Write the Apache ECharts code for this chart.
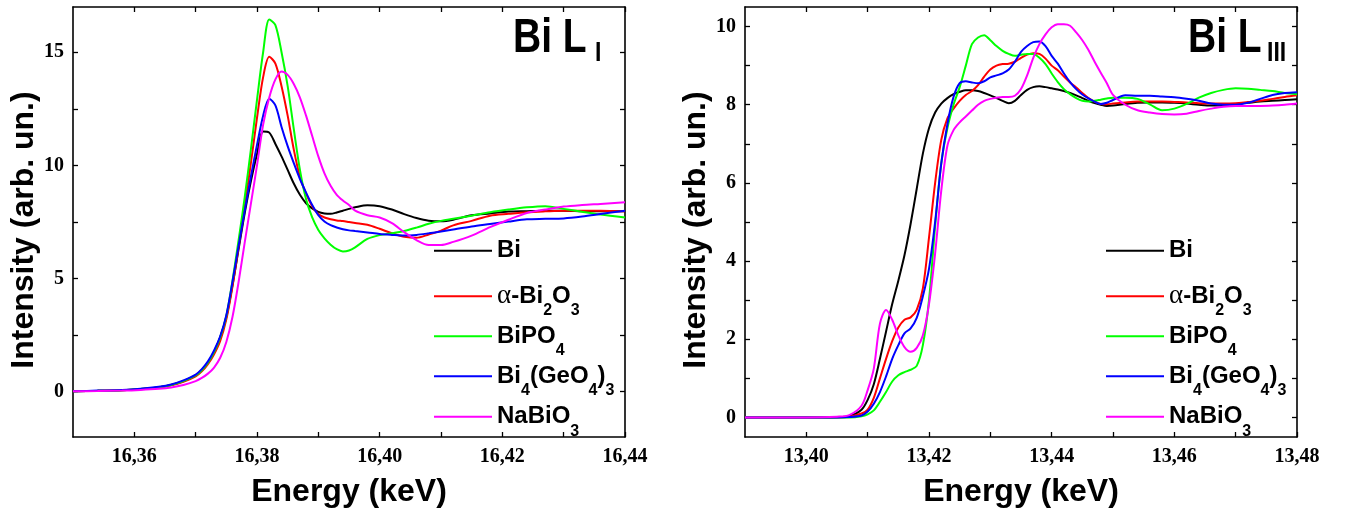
<!DOCTYPE html>
<html><head><meta charset="utf-8">
<script src="https://cdn.jsdelivr.net/npm/echarts@6/dist/echarts.min.js"></script>
<style>html,body{margin:0;padding:0;background:#fff}#c{width:1347px;height:513px}</style>
</head><body><div id="c"></div>
<script>
// ---------- Bi L_I edge (left panel) ----------
const LX = [16.350,16.354,16.358,16.361,16.364,16.366,16.368,16.370,16.371,16.372,16.373,16.374,16.375,16.376,16.377,16.378,16.379,16.380,16.381,16.382,16.383,16.384,16.385,16.386,16.387,16.388,16.389,16.390,16.391,16.392,16.393,16.394,16.395,16.396,16.398,16.400,16.402,16.404,16.406,16.408,16.410,16.412,16.415,16.418,16.421,16.424,16.427,16.430,16.433,16.436,16.440];
const L_Bi = [0.02,0.04,0.07,0.12,0.20,0.30,0.47,0.72,0.95,1.28,1.75, 2.40,3.30,4.70,6.30,7.90,9.30,10.50,11.50,11.45,10.95, 10.40,9.80,9.20,8.70,8.33,8.10,7.95,7.88,7.86,7.92, 8.00,8.08,8.15,8.24,8.20,8.05,7.85,7.68,7.56,7.53, 7.60,7.80,7.88,7.96,7.98,8.00,8.00,7.98,7.97,7.98];
const L_Bi2O3 = [0.02,0.04,0.07,0.11,0.19,0.28,0.44,0.68,0.90,1.22,1.66, 2.25,3.20,4.65,6.40,8.20,10.10,12.10,13.90,14.80,14.50, 13.50,12.20,10.70,9.50,8.75,8.20,7.85,7.70,7.62,7.57, 7.54,7.50,7.46,7.38,7.20,7.00,6.85,6.80,6.95,7.12, 7.35,7.55,7.78,7.86,7.93,7.97,8.00,8.00,8.00,7.97];
const L_BiPO4 = [0.02,0.04,0.07,0.12,0.20,0.30,0.47,0.72,0.95,1.28,1.75, 2.40,3.35,4.90,6.70,8.60,10.70,12.90,15.00,16.45,16.20, 15.00,13.50,11.60,9.80,8.50,7.70,7.15,6.78,6.50,6.30, 6.20,6.24,6.38,6.75,6.92,7.00,7.10,7.25,7.42,7.55, 7.64,7.78,7.93,8.05,8.15,8.20,8.08,7.95,7.83,7.70];
const L_BiGeO = [0.02,0.05,0.08,0.13,0.22,0.32,0.50,0.76,1.00,1.34,1.82, 2.45,3.38,4.85,6.45,8.00,9.50,10.90,12.20,12.95,12.65, 11.70,10.85,10.10,9.40,8.80,8.25,7.80,7.52,7.36,7.26, 7.18,7.13,7.10,7.04,6.97,6.93,6.90,6.93,7.00,7.08, 7.17,7.30,7.41,7.52,7.62,7.64,7.66,7.74,7.85,8.00];
const L_NaBiO3 = [0.02,0.03,0.05,0.08,0.13,0.19,0.30,0.47,0.61,0.80,1.07, 1.50,2.20,3.30,4.85,6.60,8.30,10.00,11.80,13.00,13.80, 14.15,14.00,13.60,13.00,12.20,11.30,10.40,9.65,9.10,8.70, 8.45,8.25,8.00,7.80,7.70,7.45,7.05,6.70,6.48,6.48, 6.62,6.90,7.27,7.60,7.90,8.05,8.18,8.25,8.30,8.37];

// ---------- Bi L_III edge (right panel) ----------
const RX = [13.390,13.400,13.405,13.407,13.409,13.410,13.411,13.412,13.413,13.414,13.415,13.416,13.417,13.418,13.419,13.420,13.421,13.422,13.423,13.424,13.425,13.426,13.427,13.428,13.429,13.430,13.431,13.432,13.433,13.434,13.435,13.436,13.437,13.438,13.439,13.440,13.441,13.442,13.443,13.444,13.445,13.446,13.447,13.448,13.449,13.450,13.452,13.454,13.456,13.458,13.460,13.462,13.464,13.466,13.468,13.470,13.472,13.474,13.476,13.478,13.480];
const R_Bi = [0,0,0.01,0.04,0.20,0.45,0.85,1.50,2.20,2.90, 3.50,4.15,4.95,5.85,6.75,7.40,7.80,8.03,8.17,8.27, 8.33,8.37,8.37,8.35,8.30,8.24,8.17,8.10,8.04,8.10, 8.25,8.38,8.45,8.47,8.45,8.42,8.39,8.35,8.30,8.24, 8.17,8.10,8.04,8.00,7.97,7.98,8.02,8.05,8.06,8.06, 8.05,8.03,8.00,7.98,7.98,8.02,8.05,8.08,8.10,8.12,8.14];
const R_Bi2O3 = [0,0,0,0.02,0.10,0.20,0.50,1.00,1.50,1.95, 2.30,2.50,2.56,2.75,3.30,4.60,6.00,7.10,7.65,7.90, 8.10,8.25,8.35,8.50,8.72,8.90,9.00,9.04,9.05,9.10, 9.20,9.28,9.32,9.30,9.18,9.00,8.88,8.72,8.57,8.44, 8.30,8.17,8.08,8.02,8.01,8.03,8.06,8.08,8.08,8.08, 8.07,8.06,8.04,8.03,8.03,8.04,8.07,8.10,8.15,8.20,8.24];
const R_BiPO4 = [0,0,0,0,0.03,0.08,0.18,0.40,0.65,0.92, 1.08,1.16,1.22,1.32,1.85,3.00,4.90,6.50,7.40,8.00, 8.45,9.00,9.55,9.72,9.78,9.65,9.50,9.38,9.30,9.25, 9.28,9.30,9.30,9.20,9.04,8.80,8.58,8.40,8.27,8.17, 8.10,8.08,8.10,8.13,8.16,8.18,8.18,8.15,8.01,7.86, 7.90,8.02,8.18,8.30,8.38,8.42,8.41,8.38,8.35,8.30,8.27];
const R_BiGeO = [0,0,0,0.01,0.05,0.15,0.35,0.65,1.05,1.50, 1.85,2.15,2.28,2.55,3.10,3.80,5.00,6.50,7.50,8.20, 8.55,8.60,8.57,8.55,8.60,8.70,8.75,8.80,8.90,9.10, 9.35,9.50,9.60,9.62,9.50,9.25,9.05,8.80,8.58,8.40, 8.26,8.16,8.08,8.02,8.05,8.12,8.24,8.23,8.23,8.21, 8.19,8.15,8.10,8.03,8.00,8.00,8.05,8.15,8.25,8.30,8.32];
const R_NaBiO3 = [0,0,0.02,0.06,0.30,0.70,1.25,2.40,2.75,2.50, 2.10,1.80,1.68,1.78,2.10,2.90,4.20,5.80,6.95,7.35, 7.55,7.70,7.85,8.00,8.10,8.15,8.18,8.20,8.20,8.23, 8.40,8.75,9.20,9.55,9.80,9.98,10.06,10.06,10.02,9.85, 9.65,9.40,9.10,8.82,8.55,8.25,8.00,7.86,7.80,7.76, 7.75,7.77,7.84,7.90,7.95,7.97,7.97,7.97,7.98,8.00,8.03];

// ---------- names, labels, ticks ----------
const NAMES = ['Bi', 'α-Bi2O3', 'BiPO4', 'Bi4(GeO4)3', 'NaBiO3'];
const LEGEND_RICH = ['{m|Bi}', '{g|α}{m|-Bi}{s|2}{m|O}{s|3}', '{m|BiPO}{s|4}', '{m|Bi}{s|4}{m|(GeO}{s|4}{m|)}{s|3}', '{m|NaBiO}{s|3}'];
const COLORS = ['#000000', '#ff0000', '#00ff00', '#0000ff', '#ff00ff'];
const L_SERIES = [L_Bi, L_Bi2O3, L_BiPO4, L_BiGeO, L_NaBiO3];
const R_SERIES = [R_Bi, R_Bi2O3, R_BiPO4, R_BiGeO, R_NaBiO3];

const LX_TICKS = [16.36, 16.37, 16.38, 16.39, 16.40, 16.41, 16.42, 16.43, 16.44];
const LX_LABELS = [16.36, 16.38, 16.40, 16.42, 16.44];
const LY_TICKS = [0, 2.5, 5, 7.5, 10, 12.5, 15];
const LY_LABELS = [0, 5, 10, 15];
const RX_TICKS = [13.40, 13.41, 13.42, 13.43, 13.44, 13.45, 13.46, 13.47, 13.48];
const RX_LABELS = [13.40, 13.42, 13.44, 13.46, 13.48];
const RY_TICKS = [0, 1, 2, 3, 4, 5, 6, 7, 8, 9, 10];
const RY_LABELS = [0, 2, 4, 6, 8, 10];
const TITLES = [['Bi L', 'I'], ['Bi L', 'III']];
const X_TITLE = 'Energy (keV)';
const Y_TITLE = 'Intensity (arb. un.)';

const chart = echarts.init(document.getElementById('c'), null, {renderer: 'canvas'});

const lineAx = {show: true, onZero: false, lineStyle: {color: '#000', width: 1.6}};
const tickFont = {fontFamily: 'Liberation Serif', fontWeight: 'bold', fontSize: 20, color: '#000'};
const titleFont = {fontFamily: 'Liberation Sans', fontWeight: 'bold', fontSize: 32, color: '#000'};

function xAx(grid, min, max, ticks, labels, pos, showLab) {
  return {
    type: 'value', gridIndex: grid, position: pos, min: min, max: max,
    axisLine: lineAx, splitLine: {show: false},
    axisTick: {show: true, inside: true, length: 5, lineStyle: {width: 1.3, color: '#000'}, customValues: ticks},
    axisLabel: Object.assign({show: showLab, margin: 10, customValues: labels,
      formatter: v => v.toFixed(2).replace('.', ',')}, tickFont),
    name: showLab ? X_TITLE : '', nameLocation: 'middle', nameGap: 39, nameTextStyle: titleFont
  };
}
function yAx(grid, min, max, ticks, labels, pos, showLab) {
  return {
    type: 'value', gridIndex: grid, position: pos, min: min, max: max,
    axisLine: lineAx, splitLine: {show: false},
    axisTick: {show: true, inside: true, length: 5, lineStyle: {width: 1.3, color: '#000'}, customValues: ticks},
    axisLabel: Object.assign({show: showLab, margin: 9, customValues: labels,
      formatter: v => String(v)}, tickFont),
    name: showLab ? Y_TITLE : '', nameLocation: 'middle', nameGap: 30,
    nameTextStyle: Object.assign({padding: [0, 16, 0, 0]}, titleFont)
  };
}

const series = [];
NAMES.forEach((n, i) => {
  series.push({type: 'line', name: n, xAxisIndex: 0, yAxisIndex: 0, symbol: 'none',
    smooth: 0.3, z: 2 + i,
    lineStyle: {color: COLORS[i], width: 2}, itemStyle: {color: COLORS[i]},
    data: LX.map((x, k) => [x, L_SERIES[i][k]])});
});
NAMES.forEach((n, i) => {
  series.push({type: 'line', name: n, xAxisIndex: 2, yAxisIndex: 2, symbol: 'none',
    smooth: 0.3, z: 2 + i,
    lineStyle: {color: COLORS[i], width: 2}, itemStyle: {color: COLORS[i]},
    data: RX.map((x, k) => [x, R_SERIES[i][k]])});
});

const ROW_CENTERS = [261.7, 296.7, 336.7, 376.7, 417.3];
const legendRich = {
  m: {fontFamily: 'Liberation Sans', fontWeight: 'bold', fontSize: 24, lineHeight: 46, color: '#000'},
  g: {fontFamily: 'Liberation Serif', fontWeight: 'normal', fontSize: 27, lineHeight: 46, color: '#000'},
  s: {fontFamily: 'Liberation Sans', fontWeight: 'bold', fontSize: 16, lineHeight: 16, padding: [29, 0, 0, 0], color: '#000'}
};
const legends = [];
[434, 1106].forEach(lx => {
  NAMES.forEach((n, i) => {
    legends.push({
      left: lx, top: ROW_CENTERS[i] - 23, padding: 0, orient: 'vertical',
      data: [n], icon: 'rect', itemWidth: 58, itemHeight: 2, itemGap: 0,
      selectedMode: false,
      formatter: name => LEGEND_RICH[NAMES.indexOf(name)],
      textStyle: {color: '#000', rich: legendRich}
    });
  });
});

const graphics = [];
[[513, 595], [1188, 1267]].forEach((p, k) => {
  graphics.push({type: 'text', x: p[0], y: 39, scaleY: 1.25, style: {text: TITLES[k][0], font: 'bold 39px "Liberation Sans"', fill: '#000', textAlign: 'left', textVerticalAlign: 'middle'}});
  graphics.push({type: 'text', x: p[1], y: 53, scaleY: 1.2, style: {text: TITLES[k][1], font: 'bold 23px "Liberation Sans"', fill: '#000', textAlign: 'left', textVerticalAlign: 'middle'}});
});

chart.setOption({
  animation: false,
  backgroundColor: '#fff',
  grid: [
    {left: 73, top: 7, width: 552, height: 430, containLabel: false},
    {left: 745, top: 7, width: 552, height: 430, containLabel: false}
  ],
  xAxis: [
    xAx(0, 16.35, 16.44, LX_TICKS, LX_LABELS, 'bottom', true),
    xAx(0, 16.35, 16.44, LX_TICKS, LX_LABELS, 'top', false),
    xAx(1, 13.39, 13.48, RX_TICKS, RX_LABELS, 'bottom', true),
    xAx(1, 13.39, 13.48, RX_TICKS, RX_LABELS, 'top', false)
  ],
  yAxis: [
    yAx(0, -2, 17, LY_TICKS, LY_LABELS, 'left', true),
    yAx(0, -2, 17, LY_TICKS, LY_LABELS, 'right', false),
    yAx(1, -0.5, 10.5, RY_TICKS, RY_LABELS, 'left', true),
    yAx(1, -0.5, 10.5, RY_TICKS, RY_LABELS, 'right', false)
  ],
  legend: legends,
  graphic: graphics,
  series: series
});
</script>
</body></html>
